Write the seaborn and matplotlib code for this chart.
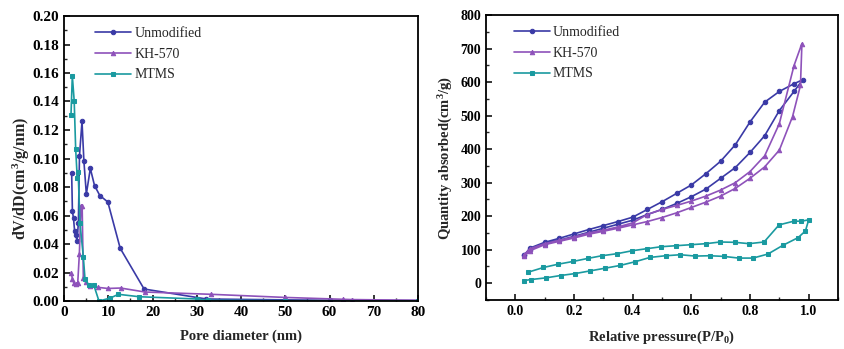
import numpy as np
import pandas as pd
import matplotlib
matplotlib.use("Agg")
import matplotlib.pyplot as plt
import seaborn as sns
from matplotlib.ticker import MultipleLocator

sns.set_theme(style="ticks")
plt.rcParams['font.family'] = ['Liberation Serif', 'DejaVu Serif']
plt.rcParams['mathtext.fontset'] = 'custom'
plt.rcParams['mathtext.rm'] = 'Liberation Serif:bold'
plt.rcParams['mathtext.it'] = 'Liberation Serif:bold'
plt.rcParams['mathtext.bf'] = 'Liberation Serif:bold'

series_names = ["Unmodified", "KH-570", "MTMS"]
colors = ["#3A3AA6", "#8E52BA", "#1A9AA0"]
markers = ["o", "^", "s"]

# ---- Left panel: pore size distribution ----
unmod_d = [1.73, 1.9, 2.15, 2.4, 2.7, 2.95, 3.25, 3.5, 4.07, 4.5, 5.05, 5.95, 6.9, 8.1, 9.9, 12.7, 18.1, 32.2, 50, 60, 80]
unmod_v = [0.090, 0.063, 0.058, 0.049, 0.046, 0.042, 0.055, 0.102, 0.126, 0.098, 0.075, 0.093, 0.081, 0.074, 0.0695, 0.037, 0.0084, 0.0014, 0.0008, 0.0005, 0.0003]

kh_d = [1.6, 1.9, 2.2, 2.6, 3.1, 3.47, 3.84, 4.1, 4.37, 4.9, 5.9, 7.6, 9.9, 12.8, 18.3, 33.2, 50, 63, 65, 80]
kh_v = [0.020, 0.0157, 0.0127, 0.0117, 0.0125, 0.033, 0.067, 0.067, 0.0164, 0.013, 0.0105, 0.0096, 0.0088, 0.0091, 0.0063, 0.0047, 0.0025, 0.0012, 0.0010, 0.0005]

mt_d = [1.58, 1.88, 2.3, 2.64, 3.0, 3.2, 3.6, 4.37, 4.75, 5.6, 6.7, 7.9, 10.4, 12.3, 17.0, 30.0, 32.5, 50, 80]
mt_v = [0.1305, 0.158, 0.1406, 0.1065, 0.086, 0.0908, 0.055, 0.031, 0.0152, 0.0112, 0.0115, 0.0, 0.002, 0.0047, 0.003, 0.0014, 0.0005, 0.0002, 0.0]

# ---- Right panel: N2 isotherms (adsorption then desorption) ----
unmod_p = [0.03, 0.05, 0.1, 0.15, 0.2, 0.25, 0.3, 0.35, 0.4, 0.45, 0.5, 0.55, 0.6, 0.65, 0.7, 0.75, 0.8, 0.85, 0.9, 0.95, 0.98,
           0.95, 0.9, 0.85, 0.8, 0.75, 0.7, 0.65, 0.6, 0.55, 0.5, 0.45, 0.4, 0.35, 0.3, 0.25, 0.2, 0.15, 0.1, 0.05, 0.03]
unmod_q = [83, 100, 118, 128, 140, 152, 164, 176, 188, 205, 220, 238, 258, 281, 313, 345, 390, 440, 515, 572, 607,
           595, 572, 540, 481, 413, 364, 327, 293, 268, 243, 220, 197, 184, 172, 160, 147, 134, 122, 105, 83]

kh_p = [0.03, 0.05, 0.1, 0.15, 0.2, 0.25, 0.3, 0.35, 0.4, 0.45, 0.5, 0.55, 0.6, 0.65, 0.7, 0.75, 0.8, 0.85, 0.9, 0.945, 0.972, 0.977,
        0.95, 0.9, 0.85, 0.8, 0.75, 0.7, 0.65, 0.6, 0.55, 0.5, 0.45, 0.4, 0.35, 0.3, 0.25, 0.2, 0.15, 0.1, 0.05, 0.03]
kh_q = [80, 97, 115, 125, 135, 146, 155, 164, 174, 184, 196, 210, 226, 242, 260, 283, 313, 347, 397, 497, 590, 715,
        649, 476, 380, 333, 300, 278, 260, 245, 232, 220, 205, 180, 168, 158, 150, 138, 128, 118, 103, 85]

mt_p = [0.03, 0.053, 0.104, 0.154, 0.205, 0.256, 0.307, 0.357, 0.408, 0.459, 0.512, 0.563, 0.613, 0.662, 0.712, 0.761, 0.81, 0.861, 0.912, 0.964, 0.989, 1.0,
        0.975, 0.949, 0.899, 0.848, 0.797, 0.749, 0.698, 0.65, 0.6, 0.549, 0.498, 0.448, 0.399, 0.346, 0.295, 0.247, 0.197, 0.147, 0.096, 0.044]
mt_q = [8, 11, 16, 23, 29, 37, 45, 53, 64, 77, 82, 85, 81, 82, 80, 75, 75, 87, 113, 136, 156, 189,
        185, 185, 174, 123, 118, 122, 123, 118, 115, 112, 109, 103, 97, 88, 82, 74, 65, 57, 47, 33]

left_x = [unmod_d, kh_d, mt_d]
left_y = [unmod_v, kh_v, mt_v]
right_x = [unmod_p, kh_p, mt_p]
right_y = [unmod_q, kh_q, mt_q]

fig = plt.figure(figsize=(8.44, 3.49), dpi=100)
ax1 = fig.add_axes([64/844, 1-301/349, (418-64)/844, (301-16)/349])
ax2 = fig.add_axes([486/844, 1-300/349, (838-486)/844, (300-15)/349])

for i, name in enumerate(series_names):
    df = pd.DataFrame({"x": left_x[i], "y": left_y[i]})
    sns.lineplot(data=df, x="x", y="y", ax=ax1, sort=False, estimator=None,
                 color=colors[i], marker=markers[i], markersize=3.2,
                 markeredgecolor=colors[i], linewidth=1.2, label=name)
    df2 = pd.DataFrame({"x": right_x[i], "y": right_y[i]})
    sns.lineplot(data=df2, x="x", y="y", ax=ax2, sort=False, estimator=None,
                 color=colors[i], marker=markers[i], markersize=3.2,
                 markeredgecolor=colors[i], linewidth=1.2, label=name)

ax1.set_xlim(0, 80)
ax1.set_ylim(0, 0.20)
ax1.xaxis.set_major_locator(MultipleLocator(10))
ax1.xaxis.set_minor_locator(MultipleLocator(5))
ax1.yaxis.set_minor_locator(MultipleLocator(0.01))
ax1.set_yticks([i * 0.02 for i in range(11)])
ax1.set_yticklabels([f"{i * 0.02:.2f}" for i in range(11)])
ax1.set_xlabel("Pore diameter (nm)", fontsize=10.5, fontweight="bold", labelpad=8)
ax1.set_ylabel("dV/dD(cm$^3$/g/nm)", fontsize=11.5, fontweight="bold", labelpad=4)
ax1.yaxis.set_label_coords(-0.09, 0.43)

ax2.set_xlim(-0.1, 1.1)
ax2.set_ylim(-50, 800)
ax2.xaxis.set_minor_locator(MultipleLocator(0.1))
ax2.yaxis.set_minor_locator(MultipleLocator(50))
ax2.set_xticks([0.0, 0.2, 0.4, 0.6, 0.8, 1.0])
ax2.set_xticklabels(["0.0", "0.2", "0.4", "0.6", "0.8", "1.0"])
ax2.set_yticks(list(range(0, 801, 100)))
ax2.set_yticklabels([str(v) for v in range(0, 801, 100)])
ax2.set_xlabel("Relative pressure(P/P$_0$)", fontsize=10.5, fontweight="bold", labelpad=8)
ax2.set_ylabel("Quantity absorbed(cm$^3$/g)", fontsize=10.5, fontweight="bold", labelpad=4)

for ax, lsize, anchor in ((ax1, 11, (0.065, 0.99)), (ax2, 10, (0.055, 0.99))):
    for s in ax.spines.values():
        s.set_visible(True)
        s.set_color("black")
        s.set_linewidth(1.3)
    ax.tick_params(which="major", direction="in", length=4, width=1.1, labelsize=lsize,
                   top=False, right=False, colors="black")
    ax.tick_params(which="minor", direction="in", length=2, width=1.0, top=False, right=False)
    for lbl in ax.get_xticklabels() + ax.get_yticklabels():
        lbl.set_fontweight("bold")
    ax.grid(False)
    ax.legend(loc="upper left", bbox_to_anchor=anchor,
              frameon=False, fontsize=10, handlelength=2.6, handletextpad=0.2,
              labelspacing=0.55, borderaxespad=0.2)

fig.savefig("out.png", dpi=100)
